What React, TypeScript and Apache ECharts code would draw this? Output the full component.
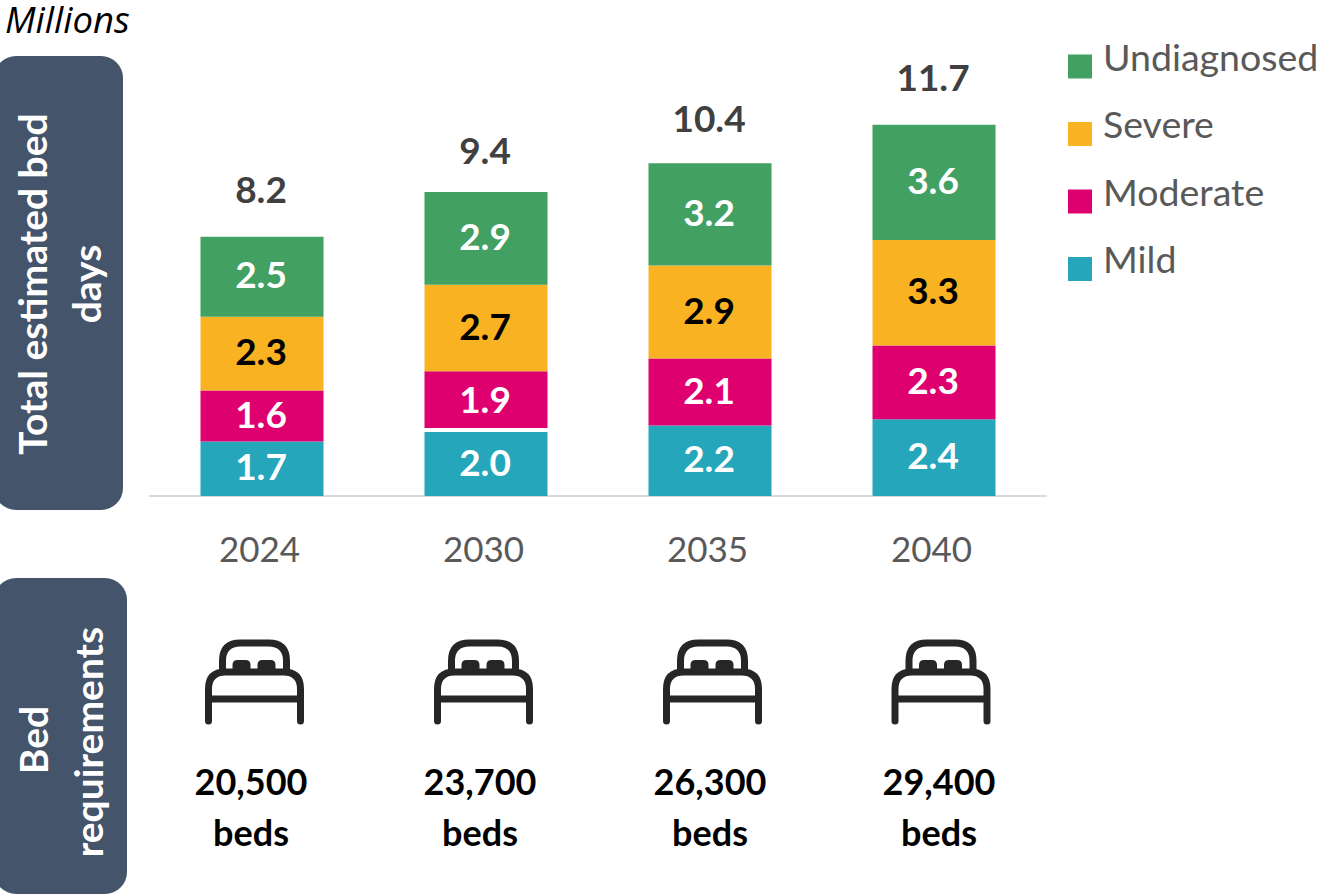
import React, { useEffect, useRef } from "react";
import * as echarts from "echarts";

const years = ["2024", "2030", "2035", "2040"];
const mild = [1.7, 2.0, 2.2, 2.4];
const moderate = [1.6, 1.9, 2.1, 2.3];
const severe = [2.3, 2.7, 2.9, 3.3];
const undiagnosed = [2.5, 2.9, 3.2, 3.6];
const totals = [8.2, 9.4, 10.4, 11.7];
const beds = ["20,500", "23,700", "26,300", "29,400"];
const bedIconX = [208.5, 437.5, 666.5, 895];
const bedTextX = [251, 480, 710, 939];
const FONT = "Lato";

echarts.graphic.registerShape(
  "bedFrame",
  echarts.graphic.extendPath(
    "M0 78V46Q0 29 17 29H75Q92 29 92 46V78M0 56H92M14 29V18Q14 0 32 0H60Q78 0 78 18V29",
    {}
  )
);
echarts.graphic.registerShape(
  "bedPillows",
  echarts.graphic.extendPath(
    "M24 29V22Q24 17 29 17H37Q42 17 42 22V29ZM49 29V22Q49 17 54 17H62Q67 17 67 22V29Z",
    {}
  )
);

const seg = (name: string, data: number[], color: string, labelColor: string) => ({
  name,
  type: "bar",
  stack: "days",
  data,
  barWidth: 123,
  itemStyle: { color },
  label: {
    show: true,
    position: "inside",
    offset: [-1, -3],
    color: labelColor,
    fontFamily: FONT,
    fontWeight: "bold",
    fontSize: 37,
    textBorderWidth: 0,
    formatter: (p: any) => Number(p.value).toFixed(1),
  },
});

export default function App() {
  const ref = useRef<HTMLDivElement>(null);
  useEffect(() => {
    document.body.style.margin = "0";
    const chart = echarts.init(ref.current!, undefined, { renderer: "svg" });
    chart.setOption({
      animation: false,
      grid: { left: 150, right: 278, top: 112, bottom: 399 },
      xAxis: {
        type: "category",
        data: years,
        axisTick: { show: false },
        axisLine: { lineStyle: { color: "#D9D9D9", width: 2 } },
        axisLabel: { color: "#595959", fontFamily: FONT, fontSize: 35, margin: 34, padding: [0, 5, 0, 0] },
      },
      yAxis: { type: "value", min: 0, max: 12, show: false },
      legend: {
        orient: "vertical",
        left: 1063,
        top: 32,
        itemWidth: 24,
        itemHeight: 24,
        itemGap: 26,
        icon: "rect",
        data: ["Undiagnosed", "Severe", "Moderate", "Mild"],
        formatter: "{t|{name}}",
        textStyle: {
          color: "#595959",
          fontFamily: FONT,
          fontSize: 37.5,
          rich: {
            t: { color: "#595959", fontFamily: FONT, fontSize: 37.5, padding: [0, 0, 21, 6] },
          },
        },
      },
      series: [
        seg("Mild", mild, "#26A6BA", "#FFFFFF"),
        seg("Moderate", moderate, "#DF0070", "#FFFFFF"),
        seg("Severe", severe, "#F9B222", "#000000"),
        seg("Undiagnosed", undiagnosed, "#42A062", "#FFFFFF"),
        {
          name: "Total",
          type: "line",
          data: totals,
          symbol: "circle",
          symbolSize: 0,
          lineStyle: { opacity: 0 },
          label: {
            show: true,
            position: "top",
            distance: 27,
            offset: [-1, 0],
            color: "#404040",
            fontFamily: FONT,
            fontWeight: "bold",
            fontSize: 37,
            formatter: (p: any) => Number(p.value).toFixed(1),
          },
        },
      ],
    });

    // thin white break above the 2030 "Mild" block, placed through the chart's own scales
    const gapY = chart.convertToPixel({ yAxisIndex: 0 }, mild[1]) as number;
    const gapX = chart.convertToPixel({ xAxisIndex: 0 }, years[1]) as number;

    const panelText = (text: string, x: number, y: number) => ({
      type: "text",
      x,
      y,
      rotation: Math.PI / 2,
      style: {
        text,
        fill: "#FFFFFF",
        font: `bold 39px ${FONT}`,
        align: "center",
        verticalAlign: "middle",
      },
    });

    const graphics: any[] = [
      { type: "rect", shape: { x: gapX - 62, y: gapY - 4, width: 124, height: 4 }, style: { fill: "#FFFFFF" }, z: 20 },
      { type: "rect", shape: { x: -6, y: 56, width: 129, height: 454, r: 22 }, style: { fill: "#44546A" } },
      { type: "rect", shape: { x: -6, y: 578, width: 133, height: 316, r: 22 }, style: { fill: "#44546A" } },
      panelText("Total estimated bed", 32, 284),
      panelText("days", 86, 284),
      panelText("Bed", 33, 740),
      panelText("requirements", 88, 742),
      {
        type: "text",
        x: 5,
        y: 19,
        style: {
          text: "Millions",
          fill: "#000000",
          font: `italic 36.5px "Open Sans"`,
          verticalAlign: "middle",
        },
      },
    ];
    beds.forEach((b, i) => {
      graphics.push({
        type: "bedFrame",
        x: bedIconX[i],
        y: 643,
        style: { fill: "none", stroke: "#262626", lineWidth: 7, lineCap: "round", lineJoin: "round" },
      });
      graphics.push({
        type: "bedPillows",
        x: bedIconX[i],
        y: 643,
        style: { fill: "#262626" },
      });
      graphics.push({
        type: "text",
        x: bedTextX[i],
        y: 781,
        style: { text: b, fill: "#000000", font: `bold 36px ${FONT}`, align: "center", verticalAlign: "middle" },
      });
      graphics.push({
        type: "text",
        x: bedTextX[i],
        y: 832,
        style: { text: "beds", fill: "#000000", font: `bold 36px ${FONT}`, align: "center", verticalAlign: "middle" },
      });
    });
    chart.setOption({ graphic: graphics });
    return () => chart.dispose();
  }, []);
  return (
    <div
      ref={ref}
      style={{ position: "fixed", left: 0, top: 0, width: 1324, height: 895, background: "#FFFFFF" }}
    />
  );
}
